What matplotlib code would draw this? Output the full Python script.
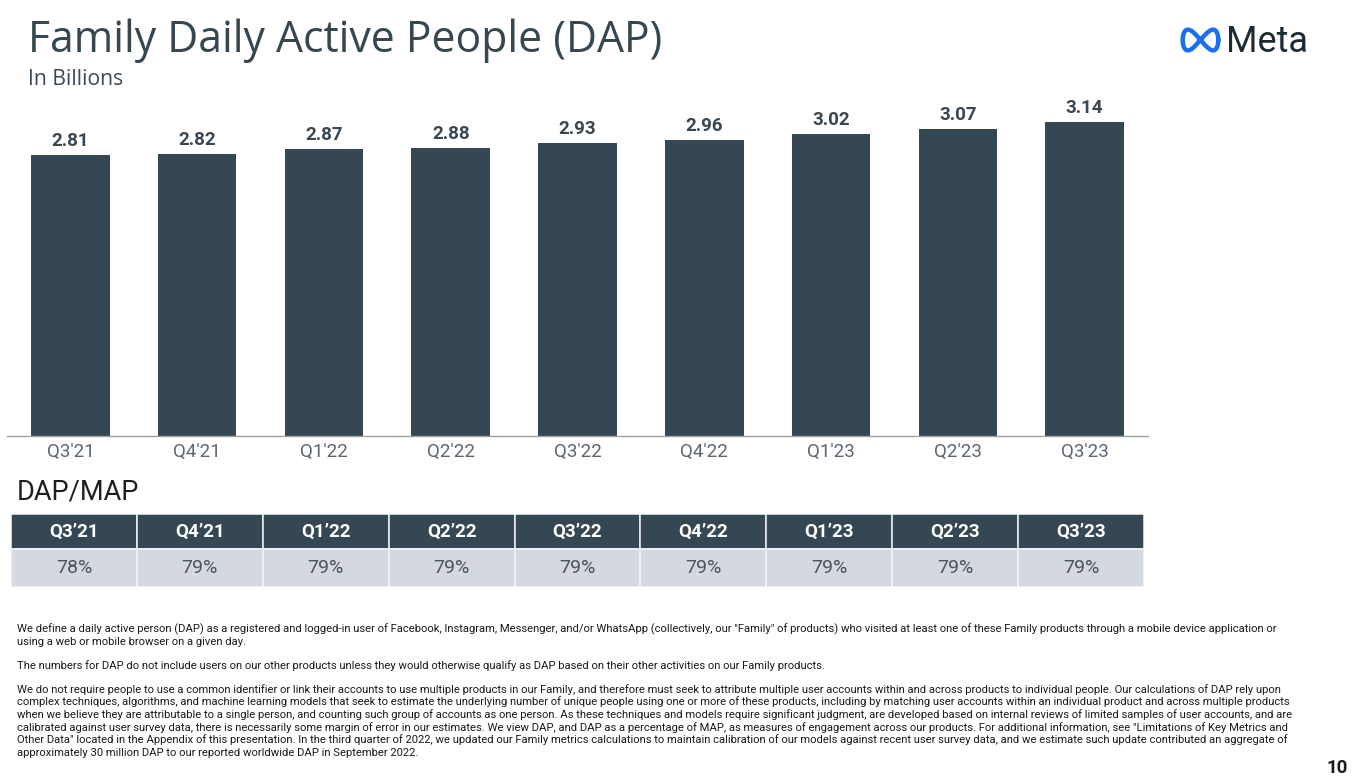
import numpy as np
import matplotlib.pyplot as plt
from matplotlib.patches import Rectangle

plt.rcParams['font.family'] = ['Roboto', 'DejaVu Sans']

# ======================================
# Data
# ======================================

quarters = ["Q3'21", "Q4'21", "Q1'22", "Q2'22", "Q3'22", "Q4'22", "Q1'23", "Q2'23", "Q3'23"]
table_quarters = ["Q3\u201921", "Q4\u201921", "Q1\u201922", "Q2\u201922", "Q3\u201922",
                  "Q4\u201922", "Q1\u201923", "Q2\u201923", "Q3\u201923"]
dap = [2.81, 2.82, 2.87, 2.88, 2.93, 2.96, 3.02, 3.07, 3.14]
dap_map = ["78%", "79%", "79%", "79%", "79%", "79%", "79%", "79%", "79%"]

notes = [
    'We define a daily active person (DAP) as a registered and logged-in user of Facebook, Instagram, Messenger, and/or WhatsApp (collectively, our "Family" of products) who visited at least one of these Family products through a mobile device application or',
    'using a web or mobile browser on a given day.',
    '',
    'The numbers for DAP do not include users on our other products unless they would otherwise qualify as DAP based on their other activities on our Family products.',
    '',
    'We do not require people to use a common identifier or link their accounts to use multiple products in our Family, and therefore must seek to attribute multiple user accounts within and across products to individual people. Our calculations of DAP rely upon',
    'complex techniques, algorithms, and machine learning models that seek to estimate the underlying number of unique people using one or more of these products, including by matching user accounts within an individual product and across multiple products',
    'when we believe they are attributable to a single person, and counting such group of accounts as one person. As these techniques and models require significant judgment, are developed based on internal reviews of limited samples of user accounts, and are',
    'calibrated against user survey data, there is necessarily some margin of error in our estimates. We view DAP, and DAP as a percentage of MAP, as measures of engagement across our products. For additional information, see "Limitations of Key Metrics and',
    'Other Data" located in the Appendix of this presentation. In the third quarter of 2022, we updated our Family metrics calculations to maintain calibration of our models against recent user survey data, and we estimate such update contributed an aggregate of',
    'approximately 30 million DAP to our reported worldwide DAP in September 2022.',
]

# ======================================
# Layout helpers
# ======================================

W, H = 1354, 781
DARK = "#354752"


def px_axes(fig, x0, y0, x1, y1):
    # pixel box (top-left origin) -> figure axes
    return fig.add_axes([x0 / W, 1 - y1 / H, (x1 - x0) / W, (y1 - y0) / H])


fig = plt.figure(figsize=(W / 100, H / 100), dpi=100)
fig.patch.set_facecolor("white")

# ======================================
# Titles + logo
# ======================================

fig.text(28 / W, 1 - 52 / H, "Family Daily Active People (DAP)", fontsize=30.8,
         family=["Open Sans", "DejaVu Sans"], color="#37474f", va="baseline")
fig.text(28 / W, 1 - 85 / H, "In Billions", fontsize=15.2,
         family=["Open Sans", "DejaVu Sans"], color="#3d4a55", va="baseline")
fig.text(1226 / W, 1 - 52 / H, "Meta", fontsize=26, color="#1c2b33", va="baseline")

logo = px_axes(fig, 1180, 27, 1221, 53)
t = np.linspace(0, 2 * np.pi, 400)
logo.plot(np.cos(t), np.sin(t) * np.cos(t) * 1.6, color="#1a6ff0", lw=3.2,
          solid_capstyle="round")
logo.set_xlim(-1.15, 1.15)
logo.set_ylim(-1.0, 1.0)
logo.axis("off")

# ======================================
# Bar chart
# ======================================

ax = px_axes(fig, 7, 100, 1148, 436)
x = np.arange(len(quarters))
bars = ax.bar(x, dap, width=0.62, color=DARK)
for xi, v in zip(x, dap):
    ax.text(xi, v + 0.05, f"{v:.2f}", ha="center", va="bottom", fontsize=13.5,
            fontweight="bold", color="#3a4650")

ax.set_xlim(-0.5, 8.5)
ax.set_ylim(0, 3.36)
ax.set_xticks(x)
ax.set_xticklabels(quarters, fontsize=13.5, color="#5b6670")
ax.tick_params(axis="x", length=0, pad=5)
ax.set_yticks([])
for s in ["top", "left", "right"]:
    ax.spines[s].set_visible(False)
ax.spines["bottom"].set_color("#a0a0a0")
ax.spines["bottom"].set_linewidth(1.0)

# ======================================
# DAP/MAP table
# ======================================

fig.text(17 / W, 1 - 499 / H, "DAP/MAP", fontsize=19.5, color="#1e1e1e", va="baseline")

tab = px_axes(fig, 11, 514, 1144, 587)
tab.set_xlim(0, len(table_quarters))
tab.set_ylim(0, 73)
tab.axis("off")
for i, (q, p) in enumerate(zip(table_quarters, dap_map)):
    tab.add_patch(Rectangle((i, 38), 1, 35, facecolor=DARK, edgecolor="#e6e9ec", lw=1.2))
    tab.add_patch(Rectangle((i, 0), 1, 38, facecolor="#d3d9df", edgecolor="#f2f4f6", lw=1.2))
    tab.text(i + 0.5, 55.5, q, ha="center", va="center", fontsize=13.5,
             fontweight="bold", color="white")
    tab.text(i + 0.5, 19, p, ha="center", va="center", fontsize=14, color="#4a5560")

# ======================================
# Footnotes
# ======================================

y = 632
for line in notes:
    if line:
        fig.text(17 / W, 1 - y / H, line, fontsize=8.15, color="#1a1a1a", va="baseline")
        y += 12.6
    else:
        y += 11.5

fig.text(1348 / W, 1 - 773 / H, "10", fontsize=13.5, fontweight="bold",
         color="#1a1a1a", ha="right", va="baseline")

fig.savefig("out.png", dpi=100)
